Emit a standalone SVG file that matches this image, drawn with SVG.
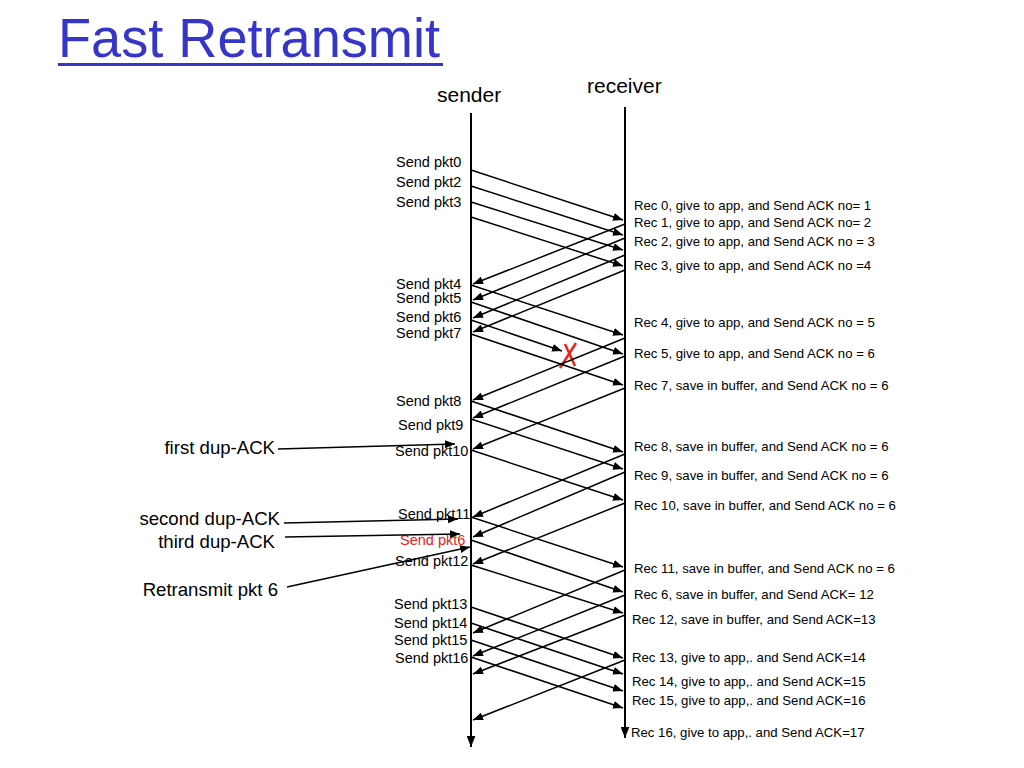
<svg xmlns="http://www.w3.org/2000/svg" width="1024" height="768" viewBox="0 0 1024 768">
<style>
text{font-family:"Comic Sans MS","Liberation Sans",Arial,sans-serif;fill:#000}
.title{font-size:56px;fill:#3535c8}
.actor{font-size:21px}
.snd{font-size:14.5px}
.rec{font-size:13.2px}
.ann{font-size:18.6px}
.red{fill:#e8241c}
.ar{stroke:#000;stroke-width:1.5;fill:none;marker-end:url(#ah)}
.tl{stroke:#000;stroke-width:2;fill:none;marker-end:url(#ahb)}
</style>
<defs>
<marker id="ah" viewBox="0 0 10 8" refX="10" refY="4" markerWidth="10" markerHeight="8" markerUnits="userSpaceOnUse" orient="auto">
<path d="M0,0 L10,4 L0,8 z" fill="#000"/>
</marker>
<marker id="ahb" viewBox="0 0 10 8" refX="10" refY="4" markerWidth="11" markerHeight="9" markerUnits="userSpaceOnUse" orient="auto">
<path d="M0,0 L10,4 L0,8 z" fill="#000"/>
</marker>
</defs>
<g id="title">
<text class="title" x="58" y="57" textLength="382" lengthAdjust="spacingAndGlyphs">Fast Retransmit</text>
<line x1="58" y1="64.5" x2="443" y2="64.5" stroke="#3535c8" stroke-width="3"/>
</g>
<g id="sender">
<text class="actor" x="437" y="102">sender</text>
<line class="tl" x1="471" y1="113" x2="471" y2="747"/>
</g>
<g id="receiver">
<text class="actor" x="587" y="93">receiver</text>
<line class="tl" x1="625" y1="107" x2="625" y2="738"/>
</g>
<g id="sender-labels">
<text class="snd" x="396" y="167">Send pkt0</text>
<text class="snd" x="396" y="187">Send pkt2</text>
<text class="snd" x="396" y="207">Send pkt3</text>
<text class="snd" x="396" y="289">Send pkt4</text>
<text class="snd" x="396" y="303">Send pkt5</text>
<text class="snd" x="396" y="322">Send pkt6</text>
<text class="snd" x="396" y="338">Send pkt7</text>
<text class="snd" x="396" y="406">Send pkt8</text>
<text class="snd" x="398" y="430">Send pkt9</text>
<text class="snd" x="395" y="456">Send pkt10</text>
<text class="snd" x="398" y="519">Send pkt11</text>
<text class="snd red" x="400" y="545">Send pkt6</text>
<text class="snd" x="395" y="566">Send pkt12</text>
<text class="snd" x="394" y="609">Send pkt13</text>
<text class="snd" x="394" y="628">Send pkt14</text>
<text class="snd" x="394" y="645">Send pkt15</text>
<text class="snd" x="395" y="663">Send pkt16</text>
</g>
<g id="receiver-labels">
<text class="rec" x="634" y="210">Rec 0, give to app, and Send ACK no= 1</text>
<text class="rec" x="634" y="227">Rec 1, give to app, and Send ACK no= 2</text>
<text class="rec" x="634" y="246">Rec 2, give to app, and Send ACK no = 3</text>
<text class="rec" x="634" y="270">Rec 3, give to app, and Send ACK no =4</text>
<text class="rec" x="634" y="327">Rec 4, give to app, and Send ACK no = 5</text>
<text class="rec" x="634" y="358">Rec 5, give to app, and Send ACK no = 6</text>
<text class="rec" x="634" y="390">Rec 7, save in buffer, and Send ACK no = 6</text>
<text class="rec" x="634" y="451">Rec 8, save in buffer, and Send ACK no = 6</text>
<text class="rec" x="634" y="480">Rec 9, save in buffer, and Send ACK no = 6</text>
<text class="rec" x="634" y="510">Rec 10, save in buffer, and Send ACK no = 6</text>
<text class="rec" x="634" y="573">Rec 11, save in buffer, and Send ACK no = 6</text>
<text class="rec" x="634" y="599">Rec 6, save in buffer, and Send ACK= 12</text>
<text class="rec" x="632" y="624">Rec 12, save in buffer, and Send ACK=13</text>
<text class="rec" x="632" y="662">Rec 13, give to app,. and Send ACK=14</text>
<text class="rec" x="632" y="686">Rec 14, give to app,. and Send ACK=15</text>
<text class="rec" x="632" y="705">Rec 15, give to app,. and Send ACK=16</text>
<text class="rec" x="631" y="737">Rec 16, give to app,. and Send ACK=17</text>
</g>
<g id="annotations">
<text class="ann" x="275" y="454" text-anchor="end">first dup-ACK</text>
<text class="ann" x="280" y="525" text-anchor="end">second dup-ACK</text>
<text class="ann" x="275" y="548" text-anchor="end">third dup-ACK</text>
<text class="ann" x="278" y="596" text-anchor="end">Retransmit pkt 6</text>
</g>
<g id="loss-mark">
<line x1="576" y1="343" x2="560" y2="368" stroke="#e8241c" stroke-width="2.5"/>
<line x1="565" y1="344" x2="575" y2="366" stroke="#e8241c" stroke-width="2.5"/>
</g>
<g id="connectors">
<line class="ar" x1="471" y1="170" x2="623" y2="220"/>
<line class="ar" x1="471" y1="186" x2="623" y2="235"/>
<line class="ar" x1="471" y1="202" x2="623" y2="250"/>
<line class="ar" x1="471" y1="217" x2="623" y2="266"/>
<line class="ar" x1="471" y1="285" x2="623" y2="335"/>
<line class="ar" x1="471" y1="302" x2="623" y2="354"/>
<line class="ar" x1="471" y1="320" x2="562" y2="351"/>
<line class="ar" x1="471" y1="334" x2="623" y2="385"/>
<line class="ar" x1="471" y1="401" x2="623" y2="452"/>
<line class="ar" x1="471" y1="419" x2="623" y2="469"/>
<line class="ar" x1="471" y1="450" x2="623" y2="500"/>
<line class="ar" x1="471" y1="517" x2="623" y2="567"/>
<line class="ar" x1="471" y1="540" x2="623" y2="592"/>
<line class="ar" x1="471" y1="565" x2="623" y2="613"/>
<line class="ar" x1="471" y1="607" x2="623" y2="658"/>
<line class="ar" x1="471" y1="623" x2="623" y2="674"/>
<line class="ar" x1="471" y1="640" x2="623" y2="691"/>
<line class="ar" x1="471" y1="657" x2="623" y2="708"/>
<line class="ar" x1="625" y1="224" x2="473" y2="284"/>
<line class="ar" x1="625" y1="238" x2="473" y2="300"/>
<line class="ar" x1="625" y1="255" x2="473" y2="318"/>
<line class="ar" x1="625" y1="270" x2="473" y2="332"/>
<line class="ar" x1="625" y1="338" x2="473" y2="400"/>
<line class="ar" x1="625" y1="356" x2="473" y2="418"/>
<line class="ar" x1="625" y1="388" x2="473" y2="449"/>
<line class="ar" x1="625" y1="454" x2="473" y2="517"/>
<line class="ar" x1="625" y1="472" x2="473" y2="537"/>
<line class="ar" x1="625" y1="503" x2="473" y2="564"/>
<line class="ar" x1="625" y1="570" x2="473" y2="633"/>
<line class="ar" x1="625" y1="595" x2="473" y2="656"/>
<line class="ar" x1="625" y1="615" x2="473" y2="674"/>
<line class="ar" x1="625" y1="660" x2="473" y2="720"/>
<line class="ar" x1="278" y1="449" x2="455" y2="444"/>
<line class="ar" x1="284" y1="523" x2="458" y2="519"/>
<line class="ar" x1="285" y1="537" x2="460" y2="534"/>
<line class="ar" x1="287" y1="587" x2="470" y2="547"/>
</g>
</svg>
